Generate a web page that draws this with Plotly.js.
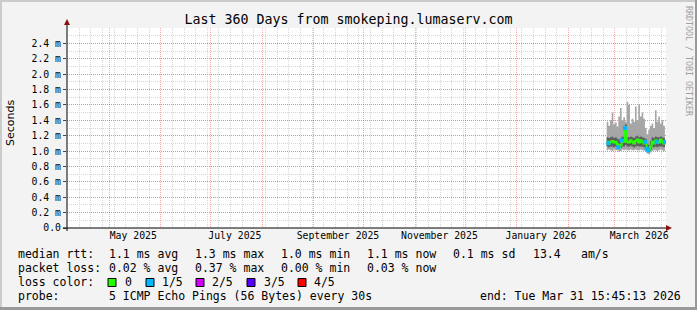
<!DOCTYPE html>
<html>
<head>
<meta charset="utf-8">
<script src="https://cdn.plot.ly/plotly-3.0.1.min.js"></script>
<style>html,body{margin:0;padding:0;background:#f3f3f3;}#chart{width:697px;height:310px;}</style>
</head>
<body>
<div id="chart"></div>
<script>
// ---- data (milliseconds) ----
const dates = ['2026-02-24','2026-02-25','2026-02-26','2026-02-27','2026-02-28','2026-03-01','2026-03-02','2026-03-03','2026-03-04','2026-03-05','2026-03-06','2026-03-07','2026-03-08','2026-03-09','2026-03-10','2026-03-11','2026-03-12','2026-03-13','2026-03-14','2026-03-15','2026-03-16','2026-03-17','2026-03-18','2026-03-19','2026-03-20','2026-03-21','2026-03-22','2026-03-23','2026-03-24','2026-03-25','2026-03-26','2026-03-27','2026-03-28','2026-03-29','2026-03-30','2026-03-31'];
const rttMin = [1.01,1.02,1.01,1.00,1.02,1.01,1.01,0.99,1.00,1.02,1.01,1.02,1.01,1.01,1.02,1.01,1.01,1.02,1.01,1.01,1.02,1.01,1.01,1.00,0.97,0.96,0.98,1.00,1.01,1.01,1.00,1.01,1.02,1.01,1.00,1.01];
const rttLow = [1.06,1.05,1.06,1.06,1.05,1.06,1.05,1.03,1.04,1.06,1.06,1.08,1.06,1.06,1.07,1.06,1.05,1.06,1.07,1.06,1.06,1.06,1.05,1.04,1.00,0.99,1.02,1.05,1.05,1.06,1.05,1.06,1.06,1.06,1.05,1.06];
const rttMedian = [1.12,1.10,1.12,1.13,1.11,1.12,1.09,1.05,1.08,1.14,1.12,1.30,1.12,1.11,1.14,1.12,1.10,1.13,1.15,1.11,1.14,1.12,1.10,1.12,1.03,1.01,1.06,1.12,1.10,1.14,1.12,1.11,1.15,1.12,1.10,1.12];
const rttHigh = [1.18,1.17,1.18,1.19,1.17,1.18,1.16,1.15,1.17,1.19,1.18,1.35,1.18,1.18,1.19,1.18,1.17,1.19,1.20,1.18,1.19,1.18,1.17,1.16,1.10,1.08,1.13,1.18,1.17,1.19,1.18,1.18,1.19,1.18,1.17,1.19];
const rttMax = [1.38,1.33,1.40,1.50,1.35,1.37,1.32,1.45,1.56,1.40,1.44,1.38,1.64,1.60,1.36,1.42,1.38,1.58,1.40,1.60,1.45,1.50,1.42,1.30,1.22,1.28,1.33,1.36,1.30,1.53,1.38,1.45,1.36,1.40,1.33,1.70];
const lossCount = [0,1,0,0,0,0,0,1,0,1,0,1,0,0,0,0,0,0,0,0,0,0,0,1,1,1,0,0,0,0,1,0,0,0,0,1];

const yTickVals = [0,0.2,0.4,0.6,0.8,1.0,1.2,1.4,1.6,1.8,2.0,2.2,2.4];
const yTickText = ['0.0','0.2 m','0.4 m','0.6 m','0.8 m','1.0 m','1.2 m','1.4 m','1.6 m','1.8 m','2.0 m','2.2 m','2.4 m'];
const xLabelVals = ['2025-05-15 12:00','2025-07-15 12:00','2025-09-15 12:00','2025-11-15 12:00','2026-01-15 12:00','2026-03-15 12:00'];
const xLabelText = ['May 2025','July 2025','September 2025','November 2025','January 2026','March 2026'];

const lossLabels = ['0','1/5','2/5','3/5','4/5'];
const lossColors = ['#26ff00','#00b8ff','#d200ff','#5a00ff','#ff0000'];

const rangeStart = '2025-04-05 15:45:13';
const rangeEnd = '2026-03-31 15:45:13';

// ---- geometry helpers (pixel -> paper) ----
const L = 67, R = 666, T = 28, B = 228;
const px = v => (v - L) / (R - L);
const py = v => (B - v) / (B - T);

const MONO = 'DejaVu Sans Mono';

const traces = [
  {x: dates, y: rttMin, mode: 'lines', line: {width: 0, shape: 'hv'}, hoverinfo: 'skip', showlegend: false},
  {x: dates, y: rttMax, mode: 'lines', line: {width: 0, shape: 'hv'}, fill: 'tonexty', fillcolor: '#a6a6a6', hoverinfo: 'skip', showlegend: false},
  {x: dates, y: rttLow, mode: 'lines', line: {width: 0, shape: 'hv'}, hoverinfo: 'skip', showlegend: false},
  {x: dates, y: rttHigh, mode: 'lines', line: {width: 0, shape: 'hv'}, fill: 'tonexty', fillcolor: '#5e5e5e', hoverinfo: 'skip', showlegend: false},
  {x: dates, y: rttMedian, mode: 'lines', line: {width: 2, shape: 'hv', color: lossColors[0]}, hoverinfo: 'skip', showlegend: false},
];
for (let k = 1; k < lossColors.length; k++) {
  const xs = [], ys = [];
  dates.forEach((d, i) => { if (lossCount[i] === k) { xs.push(d); ys.push(rttMedian[i]); } });
  if (xs.length) traces.push({x: xs, y: ys, mode: 'markers', marker: {symbol: 'square', size: 4, color: lossColors[k], line: {width: 0}}, hoverinfo: 'skip', showlegend: false});
}
traces.push({x: [], y: [], xaxis: 'x2', yaxis: 'y', mode: 'lines', hoverinfo: 'skip', showlegend: false});

const annotations = [];
function txt(x, y, text, opts) {
  annotations.push(Object.assign({xref: 'paper', yref: 'paper', x: px(x), y: py(y), text: text, showarrow: false, xanchor: 'left', yanchor: 'middle', font: {family: MONO, size: 11.5, color: '#000'}}, opts || {}));
}
// legend rows
const rowY = [254, 268, 282, 296];
txt(16, rowY[0], 'median rtt:');
txt(107, rowY[0], '1.1 ms avg');
txt(193, rowY[0], '1.3 ms max');
txt(279, rowY[0], '1.0 ms min');
txt(365, rowY[0], '1.1 ms now');
txt(451, rowY[0], '0.1 ms sd');
txt(531, rowY[0], '13.4');
txt(579, rowY[0], 'am/s');
txt(16, rowY[1], 'packet loss:');
txt(107, rowY[1], '0.02 % avg');
txt(193, rowY[1], '0.37 % max');
txt(279, rowY[1], '0.00 % min');
txt(365, rowY[1], '0.03 % now');
txt(16, rowY[2], 'loss color:');
const boxX = [108, 146, 196, 247, 298];
const labX = [123, 160, 210, 262, 312];
const shapes = [];
lossLabels.forEach((lab, i) => {
  txt(labX[i], rowY[2], lab);
  shapes.push({type: 'rect', xref: 'paper', yref: 'paper', x0: px(boxX[i]), x1: px(boxX[i] + 8), y0: py(286.5), y1: py(278.5), fillcolor: lossColors[i], line: {color: '#000', width: 1}});
});
txt(16, rowY[3], 'probe:');
txt(107, rowY[3], '5 ICMP Echo Pings (56 Bytes) every 30s');
txt(478, rowY[3], 'end: Tue Mar 31 15:45:13 2026');
// y title
annotations.push({xref: 'paper', yref: 'paper', x: px(10), y: py(123), text: 'Seconds', textangle: -90, showarrow: false, xanchor: 'center', yanchor: 'middle', font: {family: 'DejaVu Sans', size: 11, color: '#000'}});
// watermark
annotations.push({xref: 'paper', yref: 'paper', x: px(689), y: py(61), text: 'RRDTOOL / TOBI OETIKER', textangle: 90, showarrow: false, xanchor: 'center', yanchor: 'middle', font: {family: MONO, size: 8.3, color: '#a0a0a0'}});

// frame bevel
shapes.push({type: 'rect', xref: 'paper', yref: 'paper', x0: px(0), x1: px(697), y0: py(0), y1: py(2), fillcolor: '#cbcbcb', line: {width: 0}, layer: 'below'});
shapes.push({type: 'rect', xref: 'paper', yref: 'paper', x0: px(0), x1: px(2), y0: py(0), y1: py(310), fillcolor: '#cbcbcb', line: {width: 0}, layer: 'below'});
shapes.push({type: 'rect', xref: 'paper', yref: 'paper', x0: px(0), x1: px(697), y0: py(307), y1: py(310), fillcolor: '#999999', line: {width: 0}, layer: 'below'});
shapes.push({type: 'rect', xref: 'paper', yref: 'paper', x0: px(695), x1: px(697), y0: py(0), y1: py(310), fillcolor: '#999999', line: {width: 0}, layer: 'below'});
// axis lines + arrows
shapes.push({type: 'line', xref: 'paper', yref: 'paper', x0: px(67), x1: px(67), y0: py(231), y1: py(22), line: {color: '#000', width: 1}});
shapes.push({type: 'line', xref: 'paper', yref: 'paper', x0: px(63), x1: px(668), y0: py(228), y1: py(228), line: {color: '#000', width: 1}});
shapes.push({type: 'path', xref: 'paper', yref: 'paper', path: `M ${px(64)} ${py(25)} L ${px(70)} ${py(25)} L ${px(67)} ${py(19)} Z`, fillcolor: '#8b1010', line: {width: 0}});
shapes.push({type: 'path', xref: 'paper', yref: 'paper', path: `M ${px(666)} ${py(225)} L ${px(666)} ${py(231)} L ${px(672)} ${py(228)} Z`, fillcolor: '#8b1010', line: {width: 0}});

const layout = {
  width: 697, height: 310,
  margin: {l: L, r: 697 - R, t: T, b: 310 - B, pad: 0},
  paper_bgcolor: '#f3f3f3', plot_bgcolor: '#ffffff',
  showlegend: false,
  title: {text: 'Last 360 Days from smokeping.lumaserv.com', x: 0.5, xref: 'container', xanchor: 'center', y: 1 - 19 / 310, yref: 'container', yanchor: 'middle', font: {family: MONO, size: 13.3, color: '#000'}},
  xaxis: {
    type: 'date', range: [rangeStart, rangeEnd], fixedrange: true,
    tick0: '2025-05-01', dtick: 'M1', showticklabels: false, ticks: '',
    showgrid: true, gridcolor: 'rgba(255,0,0,0.35)', griddash: '1px,1px', gridwidth: 1,
    minor: {tick0: '2025-05-04', dtick: 604800000, showgrid: true, gridcolor: '#d6d6d6', griddash: '1px,1px', gridwidth: 1, ticks: ''},
    zeroline: false, showline: false
  },
  xaxis2: {
    type: 'date', range: [rangeStart, rangeEnd], overlaying: 'x', anchor: 'y', side: 'bottom', fixedrange: true,
    tickmode: 'array', tickvals: xLabelVals, ticktext: xLabelText, ticks: '', showgrid: false, zeroline: false, showline: false,
    tickfont: {family: MONO, size: 9.8, color: '#000'}
  },
  yaxis: {
    range: [0, 2.6], fixedrange: true,
    tickmode: 'array', tickvals: yTickVals, ticktext: yTickText,
    ticks: 'outside', ticklen: 3, tickcolor: '#444', tickwidth: 1,
    tickfont: {family: MONO, size: 9.8, color: '#000'},
    showgrid: true, gridcolor: 'rgba(255,0,0,0.35)', griddash: '1px,1px', gridwidth: 1,
    minor: {dtick: 0.1, tick0: 0, showgrid: true, gridcolor: '#d6d6d6', griddash: '1px,1px', gridwidth: 1, ticks: ''},
    zeroline: false, showline: false
  },
  annotations: annotations,
  shapes: shapes
};

Plotly.newPlot('chart', traces, layout, {staticPlot: true, displayModeBar: false});
</script>
</body>
</html>
